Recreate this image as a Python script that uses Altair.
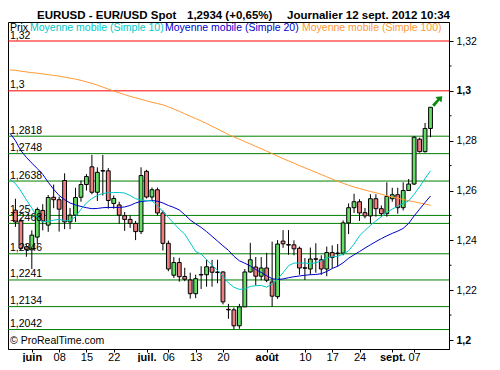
import altair as alt
import pandas as pd

# ---------------- data ----------------
candle_idx = list(range(-3, 74))   # trading-day index, 0 = 1 June 2012
open_ = [1.2521, 1.2478, 1.2374, 1.2362, 1.2413, 1.2520, 1.2461, 1.2573, 1.2563, 1.2640,
         1.2474, 1.2501, 1.2573, 1.2624, 1.2695, 1.2593, 1.2680, 1.2679, 1.2548, 1.2542,
         1.2499, 1.2484, 1.2468, 1.2435, 1.2677, 1.2574, 1.2603, 1.2510, 1.2388, 1.2260,
         1.2311, 1.2255, 1.2241, 1.2186, 1.2263, 1.2262, 1.2293, 1.2271, 1.2273, 1.2123,
         1.2121, 1.2057, 1.2133, 1.2273, 1.2293, 1.2256, 1.2289, 1.2233, 1.2174, 1.2397,
         1.2383, 1.2382, 1.2368, 1.2290, 1.2285, 1.2326, 1.2322, 1.2285, 1.2351, 1.2347,
         1.2349, 1.2470, 1.2531, 1.2555, 1.2511, 1.2498, 1.2567, 1.2527, 1.2507, 1.2567,
         1.2583, 1.2531, 1.2600, 1.2626, 1.2806, 1.2756, 1.2849]
high = [1.2567, 1.2488, 1.2385, 1.2440, 1.2532, 1.2545, 1.2582, 1.2624, 1.2575, 1.2669,
        1.2530, 1.2611, 1.2640, 1.2666, 1.2743, 1.2693, 1.2743, 1.2690, 1.2580, 1.2555,
        1.2514, 1.2500, 1.2478, 1.2693, 1.2683, 1.2612, 1.2612, 1.2520, 1.2399, 1.2333,
        1.2330, 1.2290, 1.2270, 1.2262, 1.2296, 1.2322, 1.2322, 1.2322, 1.2276, 1.2145,
        1.2130, 1.2145, 1.2285, 1.2390, 1.2333, 1.2333, 1.2350, 1.2395, 1.2401, 1.2441,
        1.2441, 1.2400, 1.2375, 1.2329, 1.2371, 1.2388, 1.2340, 1.2375, 1.2380, 1.2385,
        1.2480, 1.2548, 1.2587, 1.2565, 1.2530, 1.2585, 1.2585, 1.2540, 1.2633, 1.2611,
        1.2611, 1.2633, 1.2646, 1.2818, 1.2812, 1.2871, 1.2934]
low = [1.2454, 1.2360, 1.2334, 1.2285, 1.2385, 1.2440, 1.2434, 1.2529, 1.2435, 1.2445,
       1.2445, 1.2474, 1.2555, 1.2600, 1.2585, 1.2558, 1.2580, 1.2527, 1.2527, 1.2466,
       1.2438, 1.2450, 1.2401, 1.2425, 1.2568, 1.2562, 1.2500, 1.2359, 1.2276, 1.2249,
       1.2234, 1.2236, 1.2166, 1.2168, 1.2205, 1.2214, 1.2214, 1.2228, 1.2143, 1.2085,
       1.2042, 1.2045, 1.2133, 1.2270, 1.2219, 1.2240, 1.2232, 1.2133, 1.2165, 1.2370,
       1.2342, 1.2340, 1.2262, 1.2241, 1.2262, 1.2270, 1.2262, 1.2256, 1.2288, 1.2295,
       1.2340, 1.2425, 1.2510, 1.2478, 1.2488, 1.2468, 1.2495, 1.2495, 1.2495, 1.2555,
       1.2507, 1.2520, 1.2598, 1.2622, 1.2752, 1.2752, 1.2814]
close = [1.2474, 1.2368, 1.2364, 1.2421, 1.2524, 1.2478, 1.2572, 1.2563, 1.2525, 1.2474,
         1.2501, 1.2572, 1.2624, 1.2656, 1.2593, 1.2673, 1.2678, 1.2560, 1.2568, 1.2501,
         1.2484, 1.2468, 1.2435, 1.2660, 1.2574, 1.2603, 1.2510, 1.2388, 1.2285, 1.2311,
         1.2254, 1.2244, 1.2186, 1.2246, 1.2261, 1.2294, 1.2272, 1.2273, 1.2153, 1.2121,
         1.2057, 1.2133, 1.2273, 1.2322, 1.2256, 1.2289, 1.2240, 1.2176, 1.2385, 1.2386,
         1.2381, 1.2366, 1.2289, 1.2288, 1.2325, 1.2324, 1.2285, 1.2351, 1.2331, 1.2349,
         1.2470, 1.2531, 1.2555, 1.2510, 1.2498, 1.2567, 1.2527, 1.2507, 1.2576, 1.2583,
         1.2531, 1.2600, 1.2626, 1.2814, 1.2756, 1.2849, 1.2934]

ma_idx = list(range(-4, 74))
sma10 = [1.2645, 1.2628, 1.2598, 1.2562, 1.2530, 1.2490, 1.2475, 1.2476, 1.2481, 1.2484,
         1.2479, 1.2479, 1.2495, 1.2525, 1.2550, 1.2568, 1.2580, 1.2588, 1.2591, 1.2592,
         1.2592, 1.2590, 1.2580, 1.2567, 1.2562, 1.2560, 1.2558, 1.2540, 1.2515, 1.2492,
         1.2468, 1.2445, 1.2425, 1.2390, 1.2355, 1.2345, 1.2322, 1.2300, 1.2280, 1.2256,
         1.2229, 1.2212, 1.2203, 1.2205, 1.2215, 1.2218, 1.2219, 1.2212, 1.2225, 1.2245,
         1.2270, 1.2298, 1.2309, 1.2309, 1.2309, 1.2306, 1.2310, 1.2318, 1.2330, 1.2334,
         1.2336, 1.2345, 1.2358, 1.2385, 1.2418, 1.2440, 1.2460, 1.2478, 1.2495, 1.2512,
         1.2525, 1.2537, 1.2548, 1.2558, 1.2585, 1.2615, 1.2648, 1.2679]
sma20 = [1.2830, 1.2800, 1.2760, 1.2733, 1.2710, 1.2688, 1.2665, 1.2633, 1.2605, 1.2580,
         1.2563, 1.2550, 1.2542, 1.2536, 1.2531, 1.2527, 1.2528, 1.2531, 1.2532, 1.2532,
         1.2532, 1.2534, 1.2540, 1.2550, 1.2556, 1.2558, 1.2560, 1.2557, 1.2550, 1.2540,
         1.2532, 1.2522, 1.2503, 1.2482, 1.2466, 1.2452, 1.2435, 1.2416, 1.2397, 1.2378,
         1.2360, 1.2336, 1.2318, 1.2308, 1.2297, 1.2283, 1.2271, 1.2258, 1.2246, 1.2243,
         1.2245, 1.2250, 1.2254, 1.2257, 1.2260, 1.2262, 1.2263, 1.2266, 1.2275, 1.2287,
         1.2296, 1.2310, 1.2328, 1.2342, 1.2355, 1.2369, 1.2382, 1.2395, 1.2407, 1.2418,
         1.2428, 1.2437, 1.2448, 1.2468, 1.2498, 1.2525, 1.2552, 1.2578]
sma100 = [1.3084, 1.3082, 1.3079, 1.3076, 1.3073, 1.3071, 1.3068, 1.3065, 1.3062, 1.3059,
          1.3055, 1.3051, 1.3047, 1.3042, 1.3036, 1.3030, 1.3023, 1.3015, 1.3007, 1.2999,
          1.2992, 1.2985, 1.2978, 1.2972, 1.2966, 1.2960, 1.2954, 1.2949, 1.2944, 1.2936,
          1.2927, 1.2918, 1.2908, 1.2898, 1.2889, 1.2879, 1.2869, 1.2858, 1.2847, 1.2836,
          1.2825, 1.2815, 1.2806, 1.2796, 1.2787, 1.2777, 1.2768, 1.2758, 1.2748, 1.2738,
          1.2728, 1.2719, 1.2710, 1.2700, 1.2691, 1.2682, 1.2673, 1.2664, 1.2655, 1.2646,
          1.2637, 1.2629, 1.2621, 1.2614, 1.2608, 1.2602, 1.2596, 1.2591, 1.2585, 1.2579,
          1.2574, 1.2569, 1.2564, 1.2559, 1.2555, 1.2550, 1.2546, 1.2541]

green_levels = [1.2818, 1.2748, 1.2638, 1.25, 1.2468, 1.2346, 1.2241, 1.2134, 1.2042]
red_levels = [1.32, 1.30]

tick_idx = [0, 5, 10, 15, 21, 25, 30, 35, 43, 50, 55, 60, 66, 70]
tick_lbl = ["juin", "08", "15", "22", "juil.", "06", "13", "20", "août", "10", "17", "24", "sept.", "07"]
month_idx = [0, 21, 43, 66]

y_major = [1.20, 1.22, 1.24, 1.26, 1.28, 1.30, 1.32]
y_minor = [1.21, 1.23, 1.25, 1.27, 1.29, 1.31]

title_parts = ["EURUSD - EUR/USD Spot", "1,2934 (+0,65%)", "Journalier  12 sept. 2012 10:34"]
legend_parts = ["Prix", "Moyenne mobile (Simple 10)", "Moyenne mobile (Simple 20)", "Moyenne mobile (Simple 100)"]
legend_colors = ["black", "#00C8C8", "#0000CC", "#FF9933"]
arrow_i, arrow_price = 74.2, 1.2957

# ---------------- chart ----------------
FONT = "Liberation Sans"
W, H = 441, 327
GREEN_BODY, RED_BODY = "#66DD66", "#EE8080"

xs = alt.Scale(domain=[-3.447, 75.47], nice=False, zero=False)
ys = alt.Scale(domain=[1.19639, 1.32763], nice=False, zero=False)

candles = pd.DataFrame({"i": candle_idx, "open": open_, "high": high, "low": low, "close": close})
ma = pd.DataFrame({"i": ma_idx, "sma10": sma10, "sma20": sma20, "sma100": sma100})
green_df = pd.DataFrame({"price": green_levels})
red_df = pd.DataFrame({"price": red_levels})
labels_df = pd.DataFrame({"price": green_levels + red_levels})
labels_df["label"] = [f"{v:g}".replace(".", ",") for v in labels_df["price"]]

label_expr = "".join(f"datum.value == {v} ? '{l}' : " for v, l in zip(tick_idx, tick_lbl)) + "''"
month_test = " || ".join(f"datum.value == {v}" for v in month_idx)
x_axis = alt.Axis(
    values=tick_idx, labelExpr=label_expr, title=None, tickSize=3, labelPadding=8,
    labelBaseline="alphabetic", labelFontSize=11, labelFont=FONT, labelColor="black",
    labelFontWeight={"condition": {"test": month_test, "value": "bold"}, "value": "normal"},
    tickColor="black", domainColor="black", grid=False, labelOverlap=False, labelFlush=False,
    labelAngle=0,
)
y_axis = alt.Axis(
    orient="right", values=y_major, title=None, tickSize=4, labelPadding=3,
    labelExpr="replace(format(datum.value, '.2~f'), '.', ',')",
    labelFontSize=10.5, labelFont=FONT, labelColor="black",
    labelFontWeight={"condition": {"test": "abs(datum.value - 1.3) < 0.0001 || abs(datum.value - 1.2) < 0.0001",
                                   "value": "bold"}, "value": "normal"},
    tickColor="black", domainColor="black", grid=False,
)

def X(field):
    return alt.X(field, scale=xs, axis=x_axis)

def Y(field):
    return alt.Y(field, scale=ys, axis=y_axis)

green_rules = alt.Chart(green_df).mark_rule(strokeWidth=1, color="#008000").encode(y=Y("price:Q"))
red_rules = alt.Chart(red_df).mark_rule(strokeWidth=1, color="#FF0000").encode(y=Y("price:Q"))
lvl_text = alt.Chart(labels_df).mark_text(
    align="left", baseline="alphabetic", dy=-2.5, font=FONT, fontSize=10.5, color="black"
).encode(x=alt.value(2), y=Y("price:Q"), text="label:N")

minor_ticks = alt.Chart(pd.DataFrame({"v": y_minor})).mark_rule(color="black", strokeWidth=1).encode(
    y=Y("v:Q"), x=alt.value(W), x2=alt.value(W + 2.5)
)

wicks = alt.Chart(candles).mark_rule(color="black", strokeWidth=1).encode(
    x=X("i:Q"), y=Y("low:Q"), y2="high:Q",
)
bodies = alt.Chart(candles).mark_bar(size=3.8, stroke="black", strokeWidth=1).encode(
    x=X("i:Q"), y=Y("open:Q"), y2="close:Q",
    color=alt.condition("datum.close >= datum.open", alt.value(GREEN_BODY), alt.value(RED_BODY)),
)

def ma_line(col, colr):
    return alt.Chart(ma).mark_line(color=colr, strokeWidth=1, clip=True).encode(
        x=X("i:Q"), y=Y(f"{col}:Q")
    )

l100 = ma_line("sma100", "#FF9933")
l20 = ma_line("sma20", "#0000CC")
l10 = ma_line("sma10", "#00C8C8")

arrow = alt.Chart(pd.DataFrame({"i": [arrow_i], "p": [arrow_price]})).mark_point(
    shape="M1,-1 L0.85,0.2 L0.45,-0.2 L-0.5,1 L-0.95,0.6 L0.05,-0.45 L-0.3,-0.85 Z",
    size=110, filled=True, color="#0A8A0A", opacity=1,
).encode(x=X("i:Q"), y=Y("p:Q"))

def txt(s, x, y, size, colr="black", weight="normal"):
    return alt.Chart(pd.DataFrame({"t": [s]})).mark_text(
        align="left", baseline="alphabetic", font=FONT, fontSize=size, color=colr, fontWeight=weight
    ).encode(text="t:N", x=alt.value(x), y=alt.value(y))

title_x = [29, 179, 279]
legend_x = [2, 22, 157, 294]
texts = [txt(s, x, -3.5, 11.5, weight="bold") for s, x in zip(title_parts, title_x)]
texts += [txt(s, x, 9, 10.5, c) for s, x, c in zip(legend_parts, legend_x, legend_colors)]
texts.append(txt("© ProRealTime.com", 2, 322, 10.5))

chart = alt.layer(
    green_rules, red_rules, minor_ticks, wicks, bodies, l100, l20, l10, lvl_text, arrow, *texts
).properties(
    width=W, height=H,
    autosize=alt.AutoSizeParams(type="none"),
    padding={"left": 0, "top": 14, "right": 43, "bottom": 13},
    background="white",
).configure_view(stroke="black", strokeWidth=1)

chart.save("out.html", embed_options={"renderer": "svg", "actions": False})
